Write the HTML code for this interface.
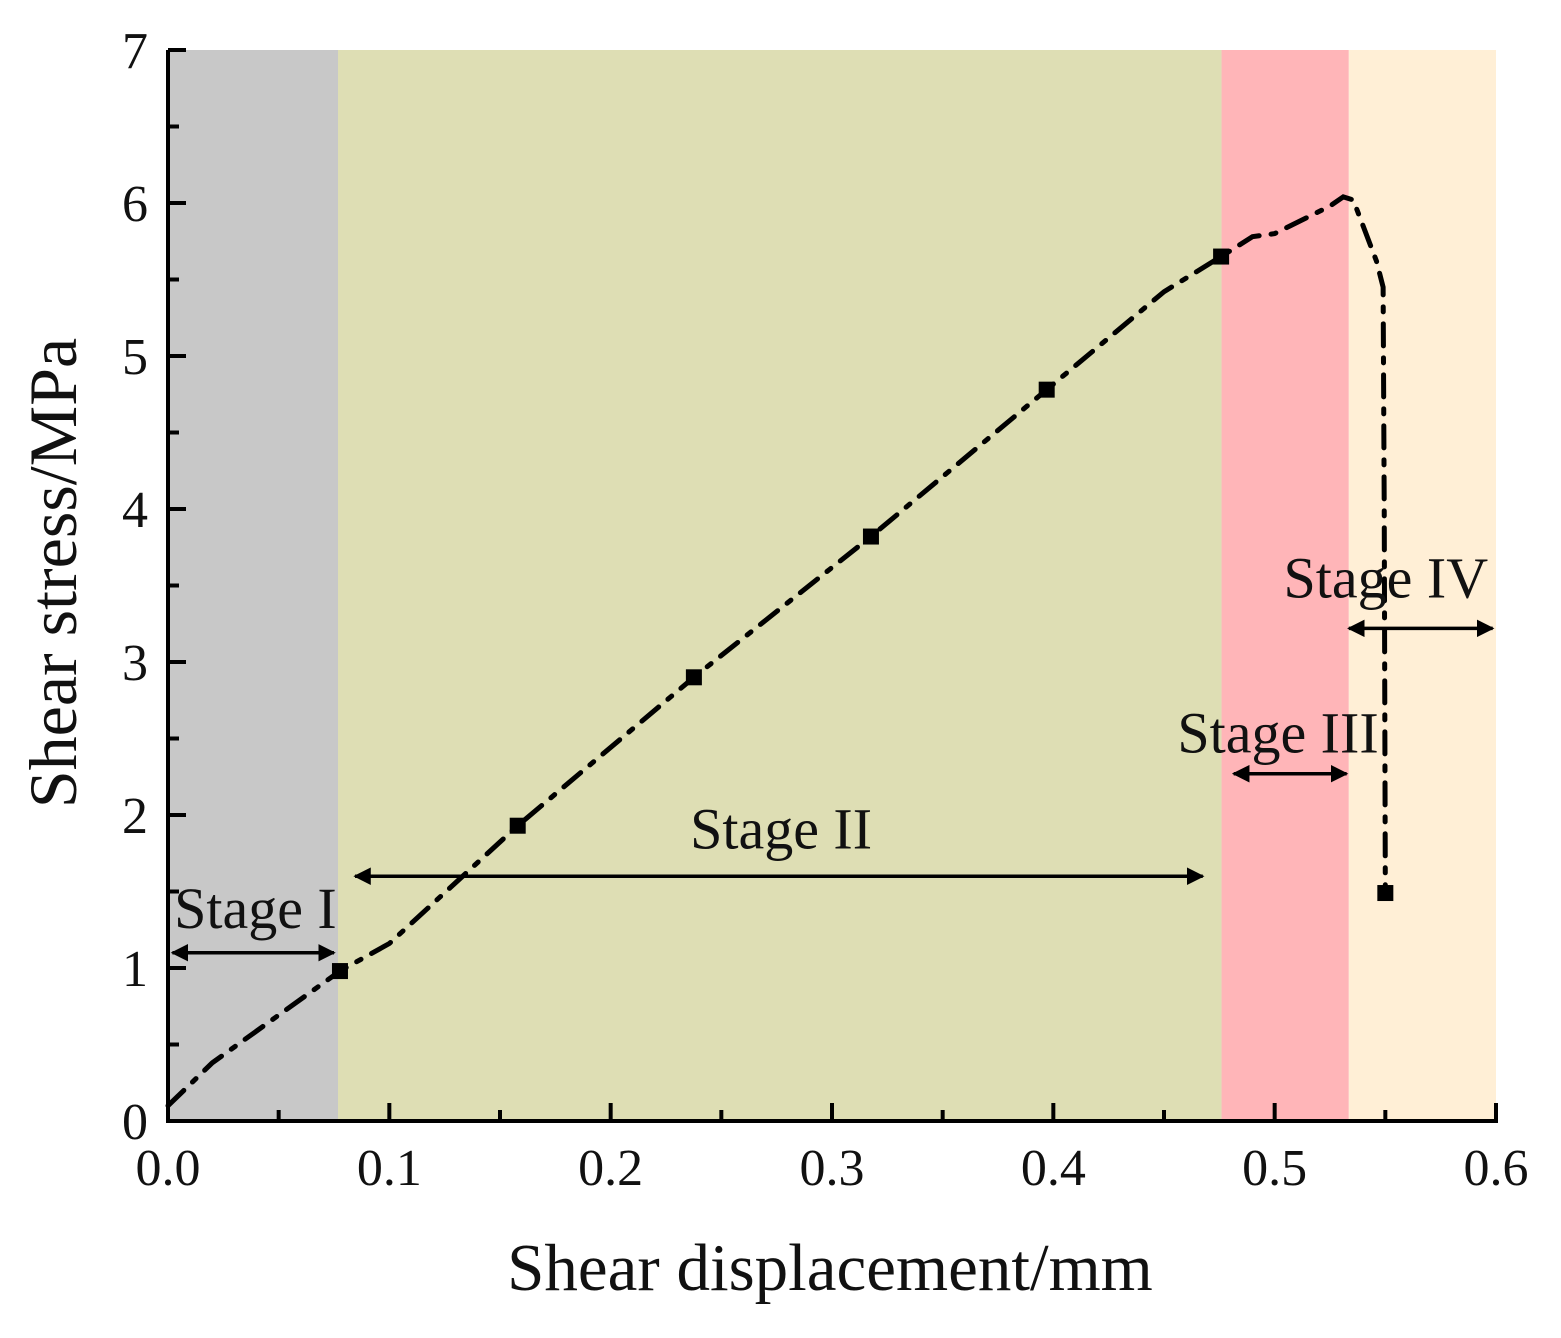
<!DOCTYPE html>
<html><head><meta charset="utf-8"><style>
html,body{margin:0;padding:0;background:#fff;}
svg text{font-family:"Liberation Serif",serif;fill:#111;}
</style></head><body>
<svg width="1561" height="1333" viewBox="0 0 1561 1333">
<defs>
<marker id="ah" viewBox="0 0 10 10" refX="9" refY="5" markerWidth="5" markerHeight="5" orient="auto-start-reverse"><path d="M0,0 L10,5 L0,10 z" fill="#000"/></marker>
</defs>
<g id="bands"></g>
<g id="series"></g>
<g id="axes"></g>
<g id="ann"></g>
<text x="830" y="1290" font-size="67" text-anchor="middle">Shear displacement/mm</text>
<text transform="translate(76,573) rotate(-90)" font-size="68" text-anchor="middle">Shear stress/MPa</text>
</svg>
<script>
const bandEdges=[0,0.0768,0.476,0.5335,0.6];
const bandColors=['#c8c8c8','#dedeb4','#ffb5b8','#ffefd6'];
const lineX=[0,0.02,0.0777,0.1,0.158,0.2376,0.3176,0.397,0.45,0.4758,0.49,0.5,0.525,0.531,0.5355,0.546,0.549,0.5495,0.55];
const lineY=[0.1,0.38,0.98,1.16,1.93,2.9,3.82,4.78,5.42,5.65,5.78,5.8,5.98,6.04,6.02,5.62,5.45,4.0,1.49];
const markX=[0.0777,0.158,0.2376,0.3176,0.397,0.4758,0.55];
const markY=[0.98,1.93,2.9,3.82,4.78,5.65,1.49];
const xTicks=['0.0','0.1','0.2','0.3','0.4','0.5','0.6'];
const yTicks=['0','1','2','3','4','5','6','7'];
const stageNames=['Stage I','Stage II','Stage III','Stage IV'];
const stageFrom=[0.002,0.0845,0.4815,0.5335];
const stageTo=[0.075,0.4675,0.5325,0.5985];
const stageArrowY=[1.1,1.6,2.27,3.22];
const stageLabelX=[0.0395,0.277,0.5015,0.504];
const stageLabelY=[1.26,1.78,2.41,3.42];
const X0=168,X1=1496,Y0=1121,Y1=50;
const sx=v=>X0+(v/0.6)*(X1-X0);
const sy=v=>Y0-(v/7)*(Y0-Y1);
const NS='http://www.w3.org/2000/svg';
function mk(t,a,p){const e=document.createElementNS(NS,t);for(const k in a)e.setAttribute(k,a[k]);p.appendChild(e);return e;}
const B=document.getElementById('bands');
for(let i=0;i<bandColors.length;i++){
 const r=mk('rect',{x:sx(bandEdges[i]),y:sy(7),width:sx(bandEdges[i+1])-sx(bandEdges[i]),height:sy(0)-sy(7),fill:bandColors[i]},B);
 
 
}
const S=document.getElementById('series');
const pl=mk('polyline',{points:lineX.map((v,i)=>sx(v)+','+sy(lineY[i])).join(' '),fill:'none',stroke:'#000','stroke-width':5,'stroke-dasharray':'22 12 5 12','stroke-linecap':'round'},S);


markX.forEach((v,i)=>{
 const r=mk('rect',{x:sx(v)-8,y:sy(markY[i])-8,width:16,height:16,fill:'#000'},S);
 
 
});
const A=document.getElementById('axes');
const xa=mk('line',{x1:X0,y1:Y0,x2:X1+2,y2:Y0,stroke:'#000','stroke-width':4},A);


const ya=mk('line',{x1:X0,y1:Y0+2,x2:X0,y2:Y1,stroke:'#000','stroke-width':4},A);


for(let i=0;i<=12;i++){const v=i*0.05,x=sx(v);mk('line',{x1:x,y1:Y0,x2:x,y2:Y0-(i%2?11:18),stroke:'#000','stroke-width':4},A);}
xTicks.forEach((t,i)=>{const e=mk('text',{x:sx(i*0.1),y:Y0+64,'font-size':52,'text-anchor':'middle'},A);e.textContent=t;
 
 });
for(let i=0;i<=14;i++){const y=sy(i*0.5);mk('line',{x1:X0,y1:y,x2:X0+(i%2?11:18),y2:y,stroke:'#000','stroke-width':4},A);}
yTicks.forEach((t,i)=>{const e=mk('text',{x:X0-20,y:sy(i)+18,'font-size':52,'text-anchor':'end'},A);e.textContent=t;
 
 });
const N=document.getElementById('ann');
stageNames.forEach((s,i)=>{
 const l=mk('line',{x1:sx(stageFrom[i]),y1:sy(stageArrowY[i]),x2:sx(stageTo[i]),y2:sy(stageArrowY[i]),stroke:'#000','stroke-width':3.5,'marker-start':'url(#ah)','marker-end':'url(#ah)'},N);
 
 
 const t=mk('text',{x:sx(stageLabelX[i]),y:sy(stageLabelY[i]),'font-size':58,'text-anchor':i==3?'start':'middle'},N);
 t.textContent=s;
 
 
});
</script>
</body></html>
